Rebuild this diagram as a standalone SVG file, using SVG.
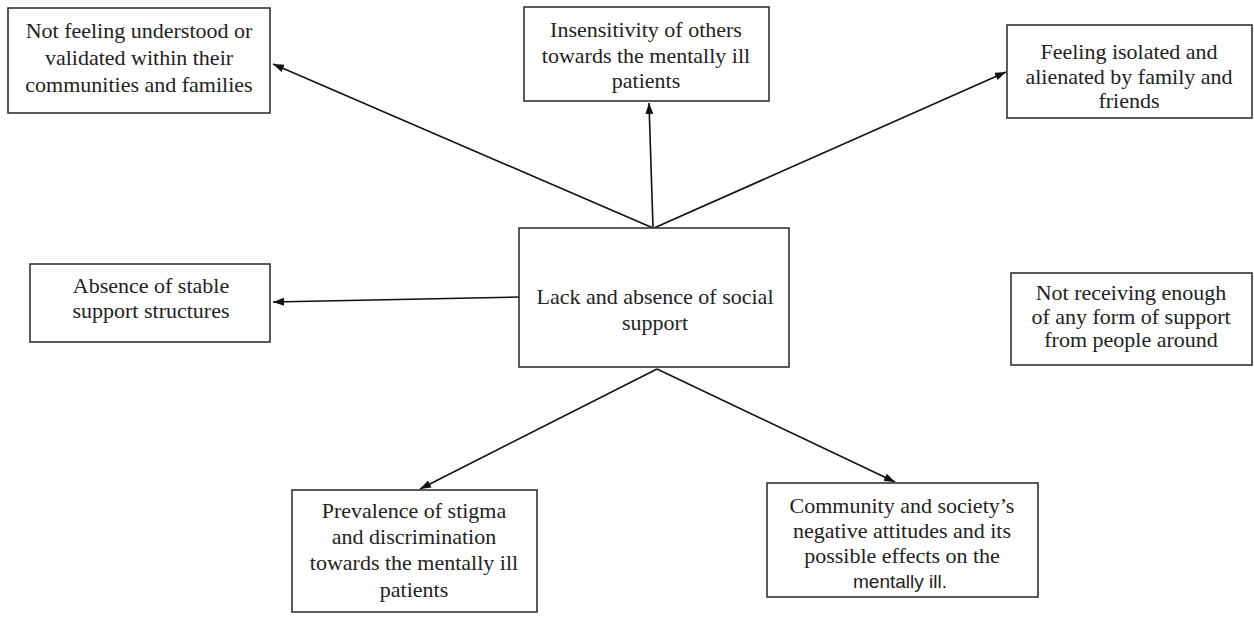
<svg xmlns="http://www.w3.org/2000/svg" width="1254" height="639" viewBox="0 0 1254 639">
<style>
.box{fill:#fff;stroke:#333;stroke-width:1.6}
.t{font-family:"Liberation Serif","Times New Roman",serif;font-size:22px;fill:#222;text-anchor:middle}
.s{font-family:"Liberation Sans",Arial,sans-serif;font-size:19px;fill:#222;text-anchor:middle}
.c{stroke:#111;stroke-width:1.6;fill:none;marker-end:url(#ah)}
</style>
<defs>
<marker id="ah" markerUnits="userSpaceOnUse" markerWidth="12" markerHeight="10" refX="11" refY="4" orient="auto">
<path d="M0,0 L11,4 L0,8 Z" fill="#111"/>
</marker>
</defs>
<rect width="1254" height="639" fill="#fff"/>
<g id="connectors">
<line class="c" x1="653" y1="228" x2="273" y2="64"/>
<line class="c" x1="653" y1="228" x2="649" y2="103"/>
<line class="c" x1="654" y1="228" x2="1006" y2="72"/>
<line class="c" x1="519" y1="297" x2="273" y2="302"/>
<line class="c" x1="657" y1="369" x2="420" y2="489"/>
<line class="c" x1="657" y1="369" x2="895" y2="482"/>
</g>
<g id="n-top-left">
<rect class="box" x="8" y="8" width="262" height="105"/>
<text class="t" x="139" y="38">Not feeling understood or</text>
<text class="t" x="139" y="65">validated within their</text>
<text class="t" x="139" y="92">communities and families</text>
</g>
<g id="n-top-mid">
<rect class="box" x="524" y="7" width="245" height="94"/>
<text class="t" x="646" y="37">Insensitivity of others</text>
<text class="t" x="646" y="63">towards the mentally ill</text>
<text class="t" x="646" y="88">patients</text>
</g>
<g id="n-top-right">
<rect class="box" x="1007" y="25" width="245" height="93"/>
<text class="t" x="1129" y="59">Feeling isolated and</text>
<text class="t" x="1129" y="84">alienated by family and</text>
<text class="t" x="1129" y="108">friends</text>
</g>
<g id="n-absence">
<rect class="box" x="30" y="264" width="240" height="78"/>
<text class="t" x="151" y="293">Absence of stable</text>
<text class="t" x="151" y="318">support structures</text>
</g>
<g id="n-center">
<rect class="box" x="519" y="228" width="270" height="139"/>
<text class="t" x="655" y="304">Lack and absence of social</text>
<text class="t" x="655" y="330">support</text>
</g>
<g id="n-right">
<rect class="box" x="1011" y="273" width="241" height="92"/>
<text class="t" x="1131" y="300">Not receiving enough</text>
<text class="t" x="1131" y="324">of any form of support</text>
<text class="t" x="1131" y="347">from people around</text>
</g>
<g id="n-bottom-left">
<rect class="box" x="292" y="490" width="245" height="122"/>
<text class="t" x="414" y="518">Prevalence of stigma</text>
<text class="t" x="414" y="544">and discrimination</text>
<text class="t" x="414" y="570">towards the mentally ill</text>
<text class="t" x="414" y="597">patients</text>
</g>
<g id="n-bottom-right">
<rect class="box" x="767" y="483" width="271" height="114"/>
<text class="t" x="902" y="513">Community and society’s</text>
<text class="t" x="902" y="538">negative attitudes and its</text>
<text class="t" x="902" y="563">possible effects on the</text>
<text class="s" x="900" y="588">mentally ill.</text>
</g>
</svg>
